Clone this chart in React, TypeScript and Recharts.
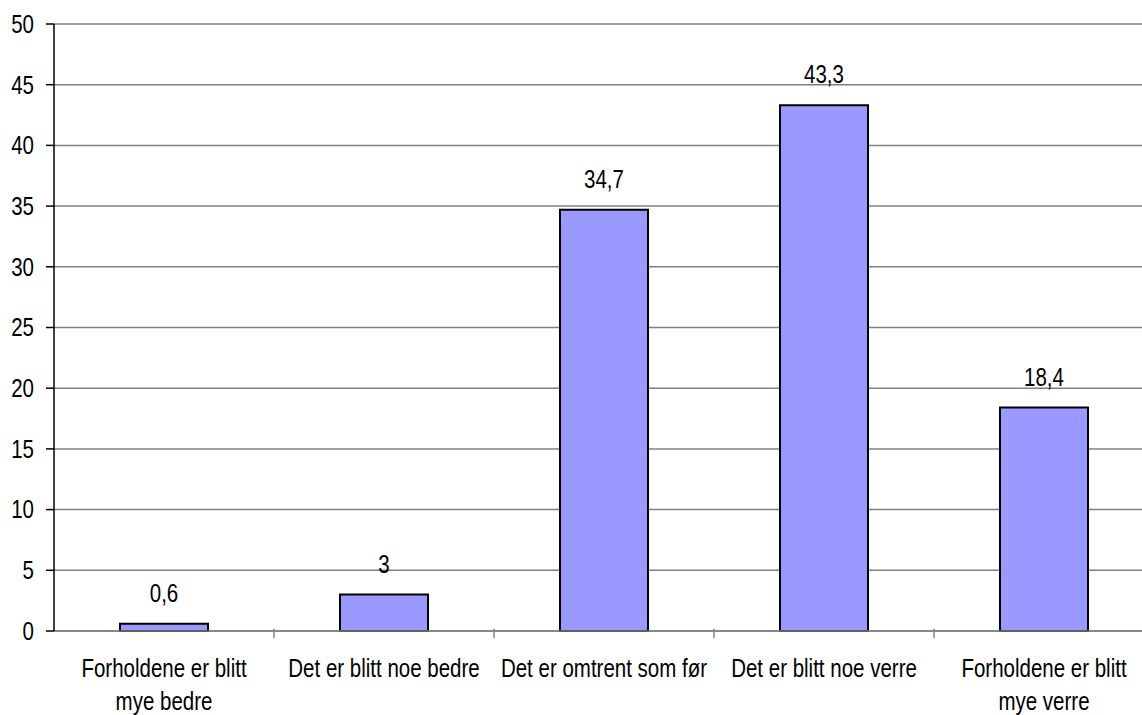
import React from 'react';
import { BarChart, Bar, XAxis, YAxis, CartesianGrid, LabelList } from 'recharts';

const categories = [
  'Forholdene er blitt mye bedre',
  'Det er blitt noe bedre',
  'Det er omtrent som før',
  'Det er blitt noe verre',
  'Forholdene er blitt mye verre',
];
const categoryLines: string[][] = [
  ['Forholdene er blitt', 'mye bedre'],
  ['Det er blitt noe bedre'],
  ['Det er omtrent som før'],
  ['Det er blitt noe verre'],
  ['Forholdene er blitt', 'mye verre'],
];
const values = [0.6, 3, 34.7, 43.3, 18.4];
const yTicks = [0, 5, 10, 15, 20, 25, 30, 35, 40, 45, 50];

const data = categories.map((c, i) => ({ name: c, value: values[i] }));

const FONT = "'Liberation Sans', Arial, sans-serif";
const FS = 25;
const NARROW = 0.82;

const XTick = (props: any) => {
  const { x, y, payload, index } = props;
  const i = categories.indexOf(payload.value);
  const lines = categoryLines[i] || [payload.value];
  const half = payload.offset ?? 0;
  const axisY = y - 8;
  return (
    <g>
      {index < categories.length - 1 && (
        <line x1={x + half} x2={x + half} y1={axisY} y2={axisY + 9} stroke="#808080" strokeWidth={1.5} />
      )}
      <g transform={`translate(${x},${y}) scale(${NARROW},1)`}>
        <text x={0} y={0} textAnchor="middle" fontFamily={FONT} fontSize={FS} fill="#000">
          {lines.map((l, k) => (
            <tspan key={k} x={0} dy={k === 0 ? 40 : 33}>
              {l}
            </tspan>
          ))}
        </text>
      </g>
    </g>
  );
};

const YTick = (props: any) => {
  const { x, y, payload } = props;
  return (
    <g transform={`translate(${x},${y}) scale(${NARROW},1)`}>
      <text x={0} y={0} dy="0.355em" textAnchor="end" fontFamily={FONT} fontSize={FS} fill="#000">
        {payload.value}
      </text>
    </g>
  );
};

const fmt = (v: any) => String(v).replace('.', ',');

const ValueLabel = (props: any) => {
  const { x, y, width, value } = props;
  const cx = x + width / 2;
  const by = y - 22;
  return (
    <g transform={`translate(${cx},${by}) scale(${NARROW},1)`}>
      <text x={0} y={0} textAnchor="middle" fontFamily={FONT} fontSize={FS} fill="#000">
        {fmt(value)}
      </text>
    </g>
  );
};

export default function App() {
  return (
    <div style={{ position: 'absolute', left: 0, top: 0, width: 1142, height: 715, overflow: 'hidden', background: '#fff' }}>
      <BarChart
        width={1154}
        height={715}
        data={data}
        margin={{ top: 24, right: 0, bottom: 0, left: 0 }}
        barCategoryGap="30%"
      >
        <CartesianGrid vertical={false} stroke="#808080" strokeWidth={1.5} />
        <XAxis
          dataKey="name"
          interval={0}
          tickLine={false}
          axisLine={{ stroke: '#808080', strokeWidth: 1.5 }}
          height={84}
          tick={<XTick />}
          tickMargin={0}
        />
        <YAxis
          domain={[0, 50]}
          ticks={yTicks}
          width={54}
          tickSize={8}
          tickMargin={12}
          interval={0}
          axisLine={{ stroke: '#000', strokeWidth: 1.5 }}
          tickLine={{ stroke: '#000', strokeWidth: 1.5 }}
          tick={<YTick />}
        />
        <Bar dataKey="value" fill="#9999FF" stroke="#000" strokeWidth={2} isAnimationActive={false}>
          <LabelList dataKey="value" content={<ValueLabel />} />
        </Bar>
      </BarChart>
    </div>
  );
}
